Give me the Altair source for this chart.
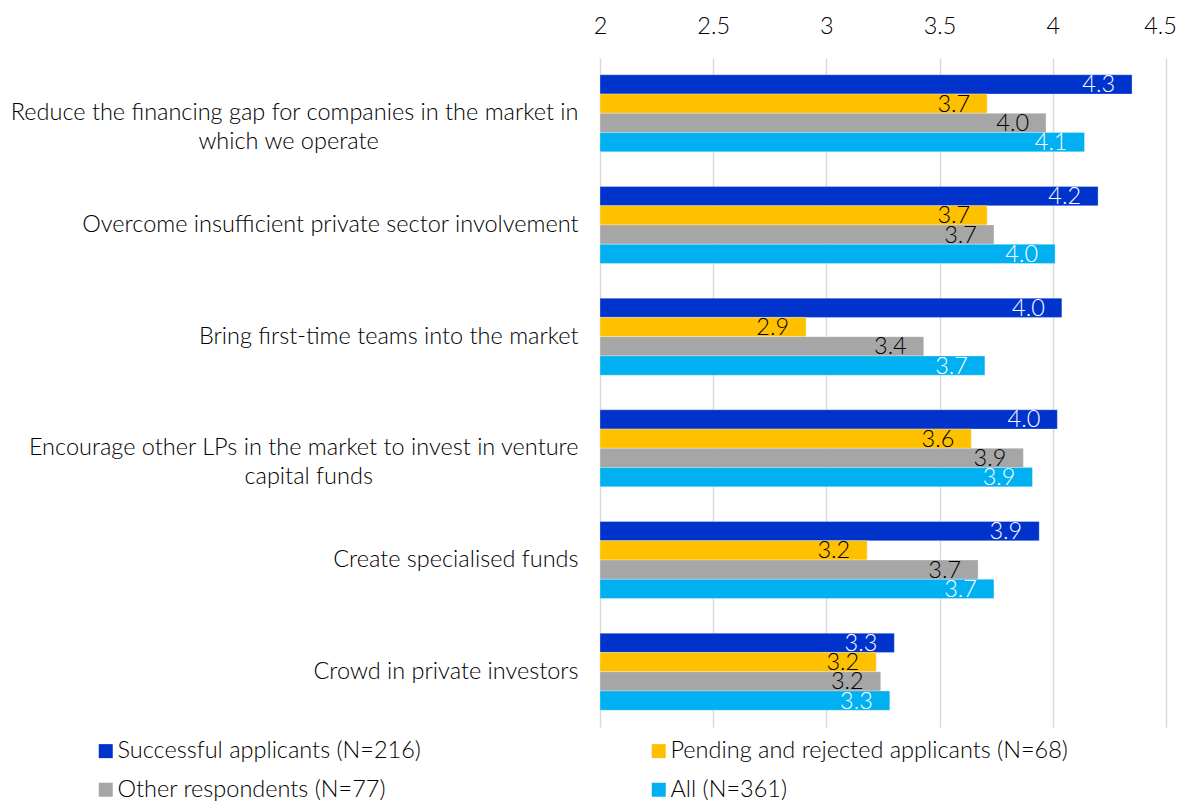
import altair as alt
import pandas as pd

categories = [
    "Reduce the financing gap for companies in the market in which we operate",
    "Overcome insufficient private sector involvement",
    "Bring first-time teams into the market",
    "Encourage other LPs in the market to invest in venture capital funds",
    "Create specialised funds",
    "Crowd in private investors",
]
series = [
    "Successful applicants (N=216)",
    "Pending and rejected applicants (N=68)",
    "Other respondents (N=77)",
    "All (N=361)",
]
successful = [4.35, 4.20, 4.04, 4.02, 3.94, 3.30]
pending = [3.71, 3.71, 2.91, 3.64, 3.18, 3.22]
other = [3.97, 3.74, 3.43, 3.87, 3.67, 3.24]
all_resp = [4.14, 4.01, 3.70, 3.91, 3.74, 3.28]
colors = ["#0033CC", "#FFC000", "#A6A6A6", "#00B0F0"]
label_colors = ["#FFFFFF", "#000000", "#000000", "#FFFFFF"]
x_ticks = [2, 2.5, 3, 3.5, 4, 4.5]

rows = []
for s, vals, lc in zip(series, [successful, pending, other, all_resp], label_colors):
    for c, v in zip(categories, vals):
        rows.append({"category": c, "series": s, "value": v, "lc": lc})
df = pd.DataFrame(rows)

FONT = "Lato"
FW = 300
FS = 23.5
EM = "\u2003"
EN = "\u2002"
WJ = "\u2060"

label_expr = (
    "datum.label == '" + categories[0] + "' ? ['Reduce the financing gap for companies in the market in', 'which we operate"
    + EM * 10 + EN + EN + WJ + "'] : "
    "datum.label == '" + categories[3] + "' ? ['Encourage other LPs in the market to invest in venture', 'capital funds"
    + EM * 11 + EN + WJ + "'] : datum.label"
)

y = alt.Y(
    "category:N",
    sort=categories,
    scale=alt.Scale(paddingInner=0.31, paddingOuter=0.15),
    axis=alt.Axis(
        title=None,
        domain=False,
        ticks=False,
        labelFont=FONT,
        labelFontWeight=FW,
        labelFontSize=FS,
        labelColor="#000000",
        labelLimit=700,
        labelPadding=22,
        labelLineHeight=29,
        labelExpr=label_expr,
    ),
)
x = alt.X(
    "value:Q",
    scale=alt.Scale(domain=[2, 4.5], zero=False, nice=False),
    axis=alt.Axis(
        title=None,
        orient="top",
        values=x_ticks,
        format="~g",
        domain=False,
        ticks=False,
        grid=True,
        gridColor="#D9D9D9",
        gridWidth=1.5,
        labelFont=FONT,
        labelFontWeight=FW,
        labelFontSize=FS,
        labelColor="#000000",
        labelPadding=20,
        labelFlush=False,
        labelOffset=alt.condition("datum.value == 4.5", alt.value(-6), alt.value(0)),
    ),
)
yoff = alt.YOffset("series:N", sort=series, scale=alt.Scale(paddingInner=0, paddingOuter=0))

bars = alt.Chart(df).mark_bar(stroke="#FFFFFF", strokeWidth=0.5, strokeOpacity=0.6).encode(
    y=y,
    x=x,
    x2=alt.datum(2),
    yOffset=yoff,
    color=alt.Color(
        "series:N",
        sort=series,
        scale=alt.Scale(domain=series, range=colors),
        legend=alt.Legend(
            title=None,
            orient="none",
            legendX=-506,
            legendY=681,
            direction="horizontal",
            columns=2,
            columnPadding=226,
            rowPadding=14,
            symbolType="square",
            symbolSize=196,
            symbolStrokeWidth=0,
            labelFont=FONT,
            labelFontWeight=FW,
            labelFontSize=FS,
            labelColor="#000000",
            labelOffset=0,
            labelLimit=500,
        ),
    ),
)

labels = alt.Chart(df).mark_text(
    align="right", baseline="middle", dx=-17, dy=1, font=FONT, fontWeight=FW, fontSize=FS
).encode(
    y=alt.Y("category:N", sort=categories),
    x=alt.X("value:Q"),
    yOffset=alt.YOffset("series:N", sort=series),
    text=alt.Text("value:Q", format=".1f"),
    color=alt.Color("lc:N", scale=None),
)

chart = (
    alt.layer(bars, labels)
    .properties(
        width=566,
        height=669,
        autosize=alt.AutoSizeParams(type="none"),
        padding={"left": 592, "top": 50, "right": 12, "bottom": 74},
    )
    .configure_view(stroke=None)
)

chart.save("out.html", embed_options={"renderer": "svg", "actions": False})
